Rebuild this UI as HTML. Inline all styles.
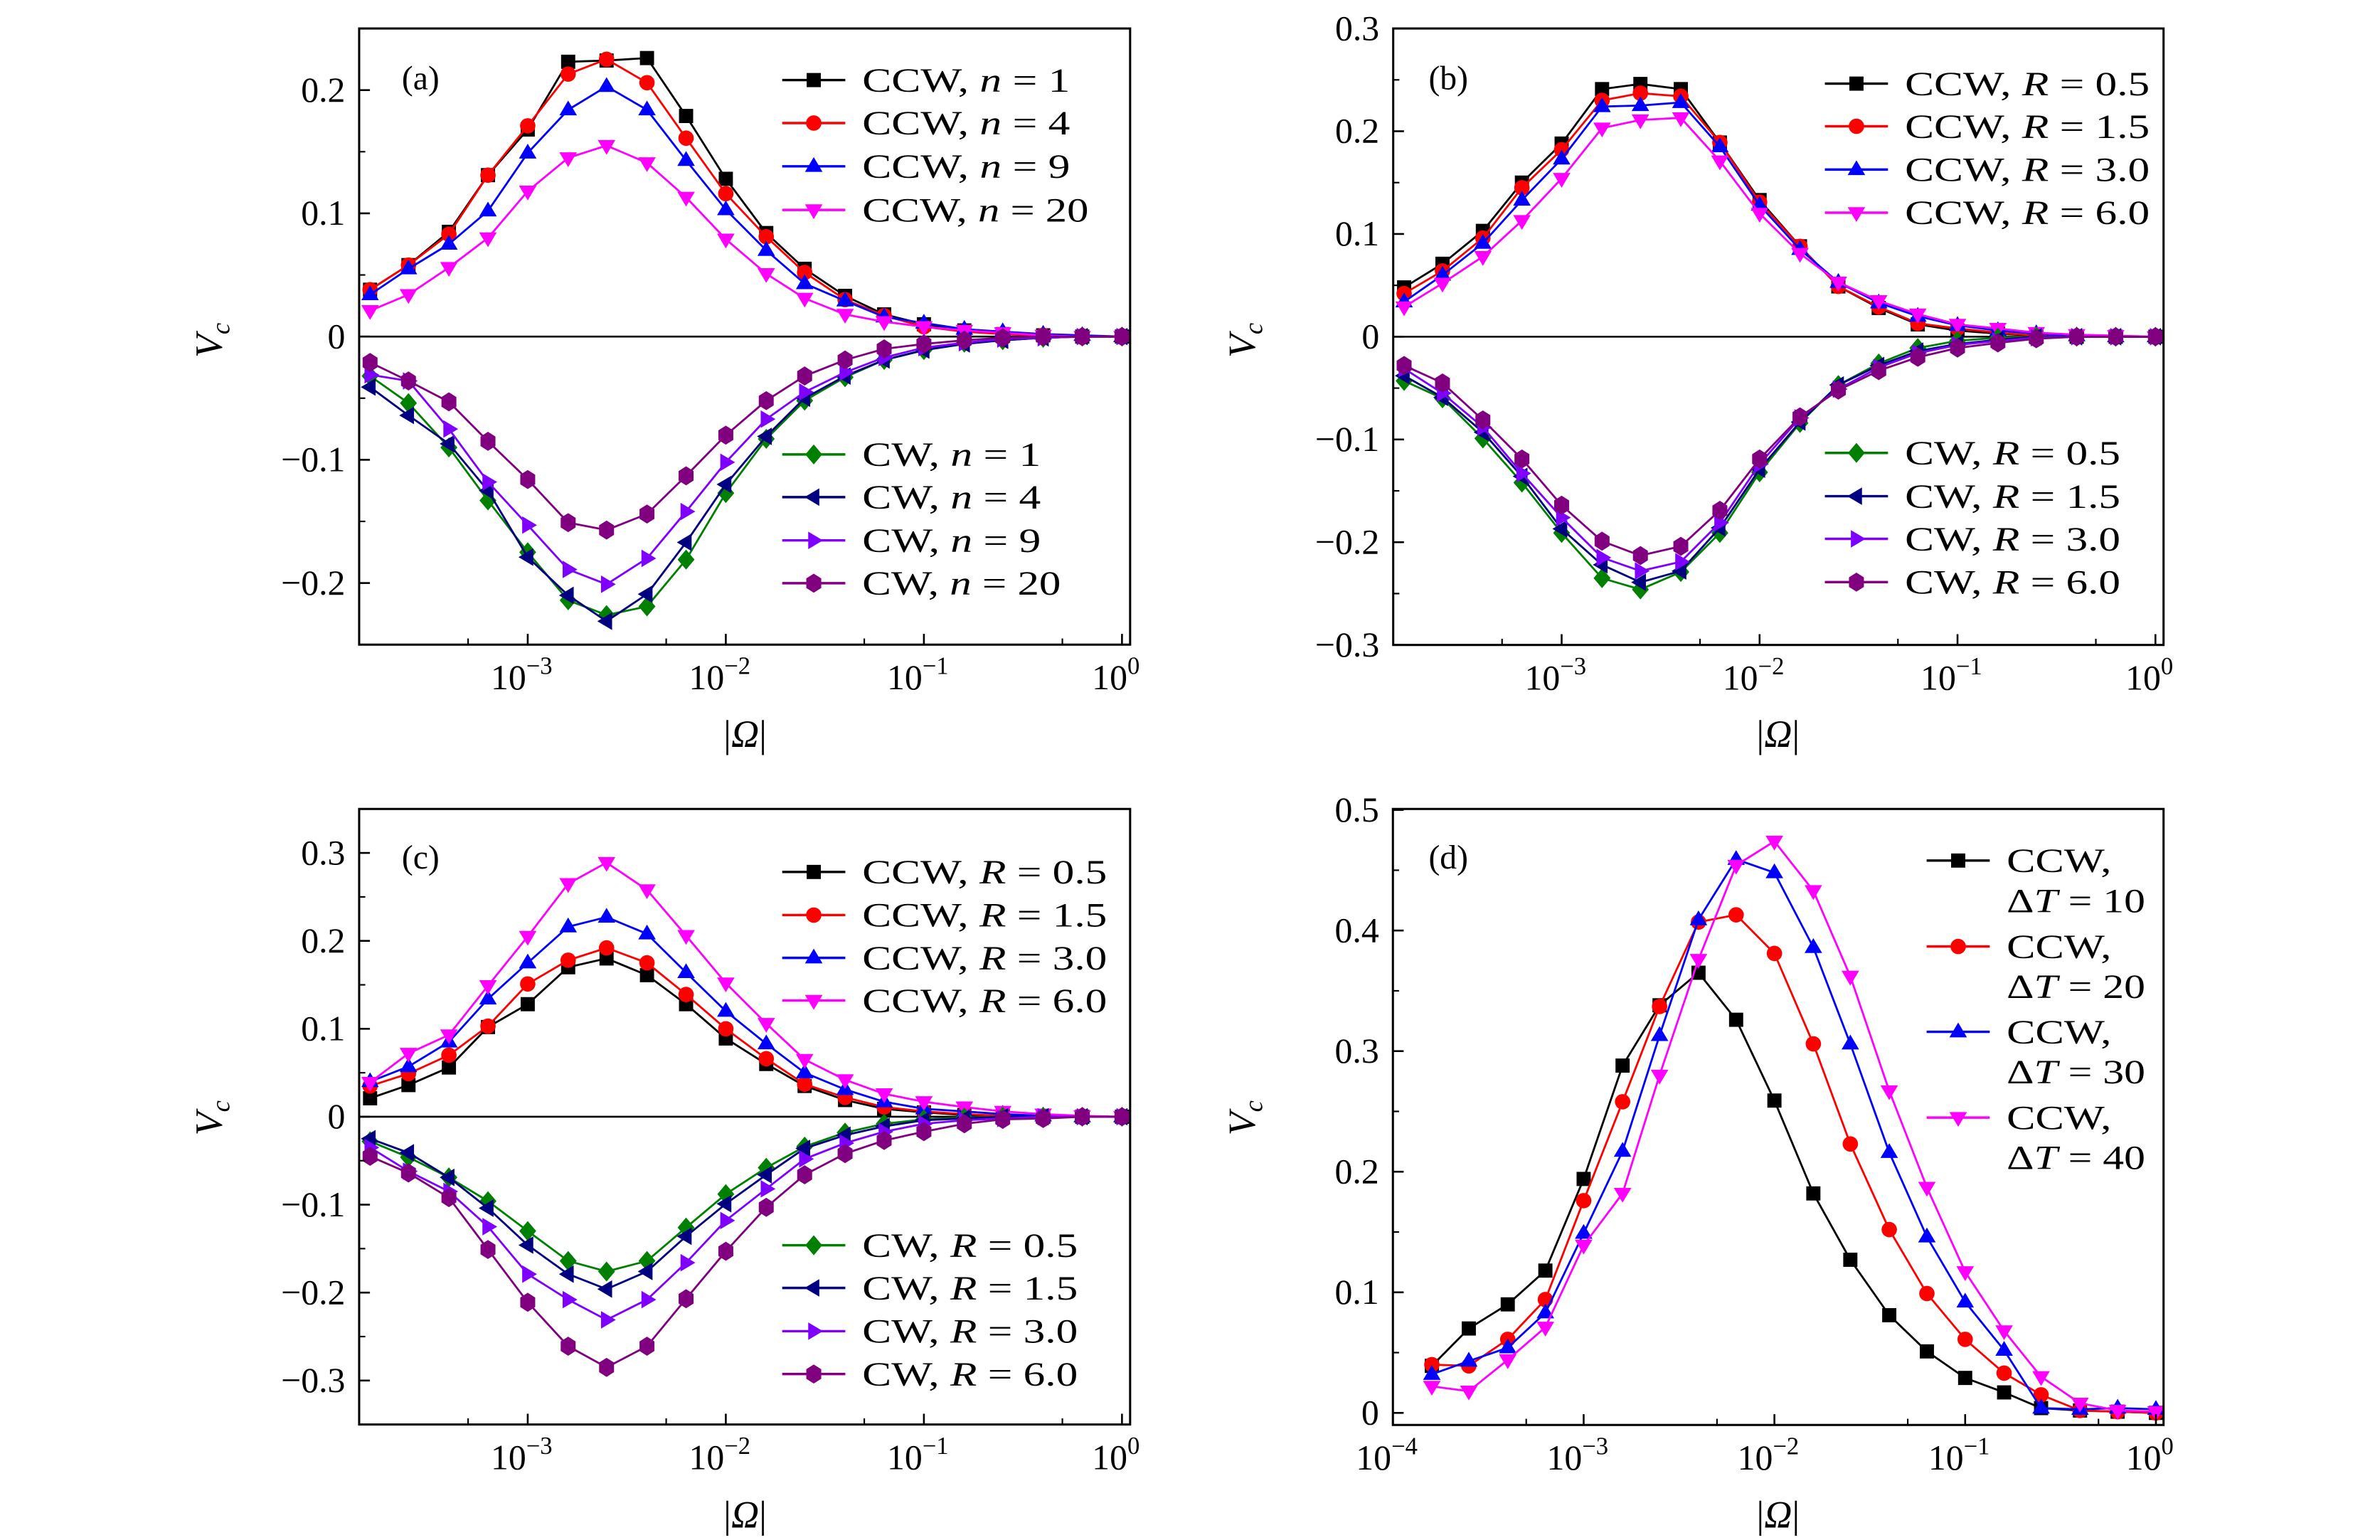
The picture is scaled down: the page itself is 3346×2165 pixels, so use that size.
<!DOCTYPE html>
<html><head><meta charset="utf-8"><title>Vc vs |Omega|</title>
<style>
html,body{margin:0;padding:0;background:#fff;}
svg{display:block;font-family:"Liberation Serif",serif;}
</style></head>
<body>
<svg id="fig" width="3346" height="2165" viewBox="0 0 1546 1000" preserveAspectRatio="none" xmlns="http://www.w3.org/2000/svg"></svg>
<script>
const omega = [1.6e-4,2.5e-4,4e-4,6.3e-4,1e-3,1.6e-3,2.5e-3,4e-3,6.3e-3,1e-2,1.6e-2,2.5e-2,4e-2,6.3e-2,0.1,0.16,0.25,0.4,0.63,1];

// Panel (a)
const aCCW1 = [0.038,0.058,0.085,0.131,0.168,0.223,0.224,0.226,0.179,0.128,0.084,0.055,0.033,0.018,0.010,0.005,0.002,0.001,0,0];
const aCCW4 = [0.038,0.058,0.083,0.131,0.171,0.213,0.225,0.206,0.161,0.116,0.081,0.052,0.030,0.017,0.008,0.004,0.002,0.001,0,0];
const aCCW9 = [0.034,0.055,0.075,0.102,0.149,0.184,0.203,0.184,0.143,0.103,0.070,0.043,0.029,0.016,0.011,0.006,0.004,0.002,0.001,0];
const aCCW20 = [0.021,0.034,0.056,0.080,0.118,0.145,0.155,0.141,0.113,0.079,0.051,0.031,0.018,0.012,0.008,0.005,0.003,0.001,0,0];
const aCW1 = [-0.032,-0.054,-0.090,-0.133,-0.175,-0.214,-0.226,-0.219,-0.181,-0.127,-0.083,-0.052,-0.033,-0.019,-0.011,-0.005,-0.003,-0.001,0,0];
const aCW4 = [-0.041,-0.064,-0.087,-0.125,-0.179,-0.210,-0.231,-0.209,-0.167,-0.120,-0.081,-0.050,-0.032,-0.019,-0.011,-0.006,-0.003,-0.001,0,0];
const aCW9 = [-0.031,-0.036,-0.075,-0.118,-0.153,-0.189,-0.201,-0.180,-0.142,-0.102,-0.067,-0.045,-0.029,-0.017,-0.009,-0.005,-0.002,-0.001,0,0];
const aCW20 = [-0.021,-0.036,-0.053,-0.085,-0.116,-0.151,-0.157,-0.144,-0.113,-0.080,-0.052,-0.032,-0.019,-0.010,-0.006,-0.003,-0.001,0,0,0];

// Panel (b)
const bCCW05 = [0.048,0.071,0.103,0.150,0.188,0.241,0.246,0.241,0.189,0.133,0.088,0.049,0.028,0.012,0.006,0.003,0.001,0,0,0];
const bCCW15 = [0.042,0.064,0.096,0.145,0.182,0.230,0.237,0.234,0.189,0.131,0.088,0.049,0.029,0.013,0.008,0.004,0.001,0,0,0];
const bCCW30 = [0.034,0.060,0.091,0.133,0.173,0.224,0.225,0.228,0.185,0.128,0.085,0.053,0.033,0.020,0.011,0.006,0.003,0.001,0,0];
const bCCW60 = [0.029,0.052,0.078,0.113,0.154,0.203,0.211,0.213,0.171,0.120,0.081,0.053,0.035,0.022,0.012,0.008,0.004,0.002,0.001,0];
const bCW05 = [-0.043,-0.060,-0.099,-0.142,-0.191,-0.235,-0.246,-0.229,-0.191,-0.132,-0.084,-0.047,-0.026,-0.011,-0.004,-0.001,0,0,0,0];
const bCW15 = [-0.038,-0.059,-0.093,-0.136,-0.187,-0.222,-0.239,-0.228,-0.186,-0.129,-0.083,-0.047,-0.028,-0.014,-0.007,-0.003,0,0,0,0];
const bCW30 = [-0.031,-0.055,-0.088,-0.133,-0.176,-0.215,-0.228,-0.219,-0.181,-0.124,-0.079,-0.051,-0.030,-0.016,-0.008,-0.004,-0.001,0,0,0];
const bCW60 = [-0.028,-0.045,-0.081,-0.119,-0.164,-0.199,-0.213,-0.204,-0.169,-0.119,-0.078,-0.052,-0.033,-0.020,-0.011,-0.006,-0.002,0,0,0];

// Panel (c)
const cCCW05 = [0.021,0.036,0.056,0.102,0.128,0.170,0.180,0.161,0.128,0.089,0.060,0.035,0.019,0.009,0.005,0.002,0.001,0,0,0];
const cCCW15 = [0.035,0.049,0.070,0.103,0.151,0.178,0.192,0.175,0.139,0.100,0.066,0.037,0.022,0.011,0.006,0.003,0.001,0,0,0];
const cCCW30 = [0.040,0.057,0.085,0.134,0.175,0.216,0.227,0.208,0.164,0.120,0.083,0.050,0.031,0.017,0.009,0.006,0.003,0.001,0,0];
const cCCW60 = [0.039,0.072,0.093,0.149,0.205,0.265,0.289,0.258,0.206,0.152,0.106,0.065,0.042,0.026,0.017,0.011,0.006,0.003,0.001,0];
const cCW05 = [-0.028,-0.046,-0.069,-0.096,-0.130,-0.164,-0.176,-0.164,-0.126,-0.088,-0.058,-0.034,-0.018,-0.008,-0.003,-0.001,0,0,0,0];
const cCW15 = [-0.025,-0.041,-0.069,-0.104,-0.146,-0.179,-0.196,-0.176,-0.136,-0.099,-0.066,-0.036,-0.021,-0.011,-0.004,-0.002,0,0,0,0];
const cCW30 = [-0.035,-0.062,-0.085,-0.125,-0.179,-0.208,-0.231,-0.208,-0.166,-0.118,-0.082,-0.048,-0.030,-0.017,-0.008,-0.004,-0.002,0,0,0];
const cCW60 = [-0.045,-0.064,-0.092,-0.151,-0.211,-0.261,-0.285,-0.261,-0.207,-0.153,-0.103,-0.066,-0.042,-0.027,-0.017,-0.008,-0.003,-0.002,0,0];

// Panel (d)
const dT10 = [0.039,0.070,0.090,0.118,0.194,0.288,0.338,0.365,0.326,0.259,0.182,0.127,0.081,0.051,0.029,0.017,0.004,0.002,0.001,0];
const dT20 = [0.040,0.039,0.061,0.094,0.176,0.258,0.337,0.407,0.413,0.381,0.306,0.223,0.152,0.099,0.061,0.033,0.015,0.002,0.001,0];
const dT30 = [0.032,0.043,0.054,0.083,0.149,0.217,0.313,0.409,0.459,0.448,0.386,0.306,0.216,0.146,0.092,0.052,0.004,0.003,0.004,0.003];
const dT40 = [0.022,0.018,0.044,0.071,0.139,0.182,0.280,0.376,0.454,0.474,0.433,0.362,0.267,0.187,0.117,0.068,0.030,0.008,0.002,0.001];

// Tick labels
const yTicksA = [-0.2,-0.1,0,0.1,0.2];
const yTicksB = [-0.3,-0.2,-0.1,0,0.1,0.2,0.3];
const yTicksC = [-0.3,-0.2,-0.1,0,0.1,0.2,0.3];
const yTicksD = [0,0.1,0.2,0.3,0.4,0.5];
const xDecadesABC = [-3,-2,-1,0];
const xDecadesD = [-4,-3,-2,-1,0];

const NS = "http://www.w3.org/2000/svg";
const svg = document.getElementById('fig');
function mk(tag, attrs, parent){
  const e = document.createElementNS(NS, tag);
  for (const k in attrs) e.setAttribute(k, attrs[k]);
  (parent||svg).appendChild(e);
  return e;
}
function fmt(v){
  if (v === 0) return "0";
  const s = Math.abs(v).toFixed(1);
  return (v < 0 ? "\u2212" : "") + s;
}

function marker(g, shape, cx, cy, color){
  let e;
  const s = 4.6;
  if (shape === 'square') {
    e = mk('rect', {x:cx-s, y:cy-s, width:2*s, height:2*s, fill:color}, g);
  } else if (shape === 'circle') {
    e = mk('circle', {cx:cx, cy:cy, r:5, fill:color}, g);
  } else {
    let pts;
    const r = 6;
    if (shape === 'up') pts = [[0,-r],[r*0.95,r*0.6],[-r*0.95,r*0.6]];
    else if (shape === 'down') pts = [[0,r],[r*0.95,-r*0.6],[-r*0.95,-r*0.6]];
    else if (shape === 'left') pts = [[-r,0],[r*0.6,-r*0.95],[r*0.6,r*0.95]];
    else if (shape === 'right') pts = [[r,0],[-r*0.6,-r*0.95],[-r*0.6,r*0.95]];
    else if (shape === 'diamond') pts = [[0,-6.5],[5.5,0],[0,6.5],[-5.5,0]];
    else if (shape === 'hex') { pts = []; for (let i=0;i<6;i++){ const a = Math.PI/2 + i*Math.PI/3; pts.push([5.6*Math.cos(a), 6.2*Math.sin(a)]); } }
    e = mk('polygon', {points: pts.map(p => (cx+p[0]).toFixed(2)+','+(cy+p[1]).toFixed(2)).join(' '), fill:color}, g);
  }
  return e;
}

function drawPanel(p){
  const g = mk('g', {});
  
  
  const xs = lv => p.x0 + (lv - p.lmin) / (p.lmax - p.lmin) * (p.x1 - p.x0);
  const ys = v => p.y1 - (v - p.ymin) / (p.ymax - p.ymin) * (p.y1 - p.y0);

  if (p.zero) {
    const zl = mk('line', {x1:p.x0, x2:p.x1, y1:ys(0), y2:ys(0), stroke:'#000', 'stroke-width':1.2}, g);
    
    
  }
  p.series.forEach(s => {
    const sg = mk('g', {}, g);
    
    
    const pts = s.data.map((v,i) => xs(Math.log10(omega[i])).toFixed(2) + ',' + ys(v).toFixed(2));
    const pl = mk('polyline', {points: pts.join(' '), fill:'none', stroke:s.color, 'stroke-width':1.3, 'stroke-linejoin':'round'}, sg);
    
    
    s.data.forEach((v,i) => {
      const m = marker(sg, s.shape, xs(Math.log10(omega[i])), ys(v), s.color);
      
      
    });
  });
  const fr = mk('rect', {x:p.x0, y:p.y0, width:p.x1-p.x0, height:p.y1-p.y0, fill:'none', stroke:'#000', 'stroke-width':1.4}, g);
  
  

  p.yTicks.forEach(v => {
    const y = ys(v);
    const t = mk('line', {x1:p.x0, x2:p.x0+7, y1:y, y2:y, stroke:'#000', 'stroke-width':1.2}, g);
    
    
    const lb = mk('text', {x:p.x0-9, y:y+7.5, 'font-size':23, 'text-anchor':'end'}, g);
    lb.textContent = fmt(v);
    
    
  });
  for (let v = p.ymin; v <= p.ymax + 1e-9; v += 0.01) {
    const r = Math.round(v*100);
    if (r % 10 === 5 || r % 10 === -5) {
      const y = ys(r/100);
      const t = mk('line', {x1:p.x0, x2:p.x0+4, y1:y, y2:y, stroke:'#000', 'stroke-width':1}, g);
      
      
    }
  }
  p.xDecades.forEach(d => {
    const x = xs(d);
    const t = mk('line', {x1:x, x2:x, y1:p.y1, y2:p.y1-7, stroke:'#000', 'stroke-width':1.2}, g);
    
    
    const lb = mk('text', {x:x-4, y:p.y1+29, 'font-size':23, 'text-anchor':'middle'}, g);
    
    
    const t1 = mk('tspan', {}, lb); t1.textContent = '10';
    const t2 = mk('tspan', {'font-size':16, dy:-10}, lb); t2.textContent = d === 0 ? '0' : '\u2212' + Math.abs(d);
    const mx = xs(d + Math.log10(5) - 1);
    if (mx > p.x0) {
      const mt = mk('line', {x1:mx, x2:mx, y1:p.y1, y2:p.y1-4, stroke:'#000', 'stroke-width':1}, g);
      
      
    }
  });
  const yt = mk('text', {x:0, y:0, 'font-size':25, 'font-style':'italic', transform:'translate(' + p.ytx + ',' + p.yty + ') rotate(-90)', 'text-anchor':'middle'}, g);
  
  
  const v1 = mk('tspan', {}, yt); v1.textContent = 'V';
  const v2 = mk('tspan', {'font-size':17, dy:5}, yt); v2.textContent = 'c';
  const xt = mk('text', {x:p.xtx, y:p.xty, 'font-size':25, 'text-anchor':'middle'}, g);
  
  
  const o1 = mk('tspan', {}, xt); o1.textContent = '|';
  const o2 = mk('tspan', {'font-style':'italic'}, xt); o2.textContent = '\u03A9';
  const o3 = mk('tspan', {}, xt); o3.textContent = '|';
  const pl = mk('text', {x:p.labx, y:p.laby + 7, 'font-size':22}, g);
  pl.textContent = '(' + p.id + ')';
  
  

  p.legend.forEach(L => {
    const lg = mk('g', {}, g);
    
    
    const s = p.series[L.idx];
    mk('line', {x1:p.legx, x2:p.legx+41, y1:L.y, y2:L.y, stroke:s.color, 'stroke-width':1.6}, lg);
    marker(lg, s.shape, p.legx+20.5, L.y, s.color);
    L.lines.forEach((ln, k) => {
      const tx = mk('text', {x:p.legx+52, y:L.y + 7.5 + k*ln.dy, 'font-size':22, textLength:ln.w, lengthAdjust:'spacingAndGlyphs'}, lg);
      ln.parts.forEach(pt => {
        const ts = mk('tspan', pt[1] ? {'font-style':'italic'} : {}, tx);
        ts.textContent = pt[0];
      });
    });
  });
}

function row(parts, w){ return [{parts:parts, w:w, dy:0}]; }

const colors = {k:'#000000', r:'#ff0000', b:'#0000ff', m:'#ff00ff', g:'#008000', n:'#000080', v:'#8000ff', p:'#800080'};

drawPanel({id:'a', x0:233.3, x1:734.1, y0:18.5, y1:418.6, lmin:-3.851, lmax:0.041, ymin:-0.25, ymax:0.25, zero:true,
  yTicks:yTicksA, xDecades:xDecadesABC, ytx:144, yty:221, xtx:484, xty:485, labx:261, laby:51,
  series:[
    {name:'ccw-n1', data:aCCW1, color:colors.k, shape:'square'},
    {name:'ccw-n4', data:aCCW4, color:colors.r, shape:'circle'},
    {name:'ccw-n9', data:aCCW9, color:colors.b, shape:'up'},
    {name:'ccw-n20', data:aCCW20, color:colors.m, shape:'down'},
    {name:'cw-n1', data:aCW1, color:colors.g, shape:'diamond'},
    {name:'cw-n4', data:aCW4, color:colors.n, shape:'left'},
    {name:'cw-n9', data:aCW9, color:colors.v, shape:'right'},
    {name:'cw-n20', data:aCW20, color:colors.p, shape:'hex'}],
  legx:508.1,
  legend:[
    {idx:0, y:52.0, lines:row([['CCW, '],['n',1],[' = 1']],135)},
    {idx:1, y:79.9, lines:row([['CCW, '],['n',1],[' = 4']],135)},
    {idx:2, y:108.0, lines:row([['CCW, '],['n',1],[' = 9']],135)},
    {idx:3, y:136.3, lines:row([['CCW, '],['n',1],[' = 20']],147)},
    {idx:4, y:295.1, lines:row([['CW, '],['n',1],[' = 1']],116)},
    {idx:5, y:322.8, lines:row([['CW, '],['n',1],[' = 4']],116)},
    {idx:6, y:350.9, lines:row([['CW, '],['n',1],[' = 9']],116)},
    {idx:7, y:378.7, lines:row([['CW, '],['n',1],[' = 20']],129)}]
});

drawPanel({id:'b', x0:905.0, x1:1405.4, y0:18.5, y1:418.8, lmin:-3.851, lmax:0.041, ymin:-0.3, ymax:0.3, zero:true,
  yTicks:yTicksB, xDecades:xDecadesABC, ytx:815, yty:221, xtx:1155, xty:485, labx:928, laby:51,
  series:[
    {name:'ccw-r05', data:bCCW05, color:colors.k, shape:'square'},
    {name:'ccw-r15', data:bCCW15, color:colors.r, shape:'circle'},
    {name:'ccw-r30', data:bCCW30, color:colors.b, shape:'up'},
    {name:'ccw-r60', data:bCCW60, color:colors.m, shape:'down'},
    {name:'cw-r05', data:bCW05, color:colors.g, shape:'diamond'},
    {name:'cw-r15', data:bCW15, color:colors.n, shape:'left'},
    {name:'cw-r30', data:bCW30, color:colors.v, shape:'right'},
    {name:'cw-r60', data:bCW60, color:colors.p, shape:'hex'}],
  legx:1185.4,
  legend:[
    {idx:0, y:54.3, lines:row([['CCW, '],['R',1],[' = 0.5']],159)},
    {idx:1, y:82.0, lines:row([['CCW, '],['R',1],[' = 1.5']],159)},
    {idx:2, y:110.1, lines:row([['CCW, '],['R',1],[' = 3.0']],159)},
    {idx:3, y:138.1, lines:row([['CCW, '],['R',1],[' = 6.0']],159)},
    {idx:4, y:294.1, lines:row([['CW, '],['R',1],[' = 0.5']],140)},
    {idx:5, y:322.2, lines:row([['CW, '],['R',1],[' = 1.5']],140)},
    {idx:6, y:349.9, lines:row([['CW, '],['R',1],[' = 3.0']],140)},
    {idx:7, y:378.0, lines:row([['CW, '],['R',1],[' = 6.0']],140)}]
});

drawPanel({id:'c', x0:233.3, x1:734.1, y0:525.3, y1:925.0, lmin:-3.851, lmax:0.041, ymin:-0.35, ymax:0.35, zero:true,
  yTicks:yTicksC, xDecades:xDecadesABC, ytx:144, yty:726, xtx:484, xty:992, labx:261, laby:557,
  series:[
    {name:'ccw-r05', data:cCCW05, color:colors.k, shape:'square'},
    {name:'ccw-r15', data:cCCW15, color:colors.r, shape:'circle'},
    {name:'ccw-r30', data:cCCW30, color:colors.b, shape:'up'},
    {name:'ccw-r60', data:cCCW60, color:colors.m, shape:'down'},
    {name:'cw-r05', data:cCW05, color:colors.g, shape:'diamond'},
    {name:'cw-r15', data:cCW15, color:colors.n, shape:'left'},
    {name:'cw-r30', data:cCW30, color:colors.v, shape:'right'},
    {name:'cw-r60', data:cCW60, color:colors.p, shape:'hex'}],
  legx:508.1,
  legend:[
    {idx:0, y:566.2, lines:row([['CCW, '],['R',1],[' = 0.5']],159)},
    {idx:1, y:594.2, lines:row([['CCW, '],['R',1],[' = 1.5']],159)},
    {idx:2, y:622.0, lines:row([['CCW, '],['R',1],[' = 3.0']],159)},
    {idx:3, y:649.7, lines:row([['CCW, '],['R',1],[' = 6.0']],159)},
    {idx:4, y:808.6, lines:row([['CW, '],['R',1],[' = 0.5']],140)},
    {idx:5, y:836.3, lines:row([['CW, '],['R',1],[' = 1.5']],140)},
    {idx:6, y:864.4, lines:row([['CW, '],['R',1],[' = 3.0']],140)},
    {idx:7, y:892.2, lines:row([['CW, '],['R',1],[' = 6.0']],140)}]
});

function dtLines(val){ return [{parts:[['CCW,']], w:68, dy:0}, {parts:[['\u0394'],['T',1],[' = ' + val]], w:90, dy:26}]; }
drawPanel({id:'d', x0:904.8, x1:1405.4, y0:525.3, y1:925.3, lmin:-4, lmax:0.040, ymin:-0.01, ymax:0.5008, zero:false,
  yTicks:yTicksD, xDecades:xDecadesD, ytx:815, yty:726, xtx:1155, xty:992, labx:928, laby:557,
  series:[
    {name:'ccw-dt10', data:dT10, color:colors.k, shape:'square'},
    {name:'ccw-dt20', data:dT20, color:colors.r, shape:'circle'},
    {name:'ccw-dt30', data:dT30, color:colors.b, shape:'up'},
    {name:'ccw-dt40', data:dT40, color:colors.m, shape:'down'}],
  legx:1251.5,
  legend:[
    {idx:0, y:558.8, lines:dtLines(10)},
    {idx:1, y:614.6, lines:dtLines(20)},
    {idx:2, y:670.0, lines:dtLines(30)},
    {idx:3, y:725.7, lines:dtLines(40)}]
});
</script>
</body></html>
